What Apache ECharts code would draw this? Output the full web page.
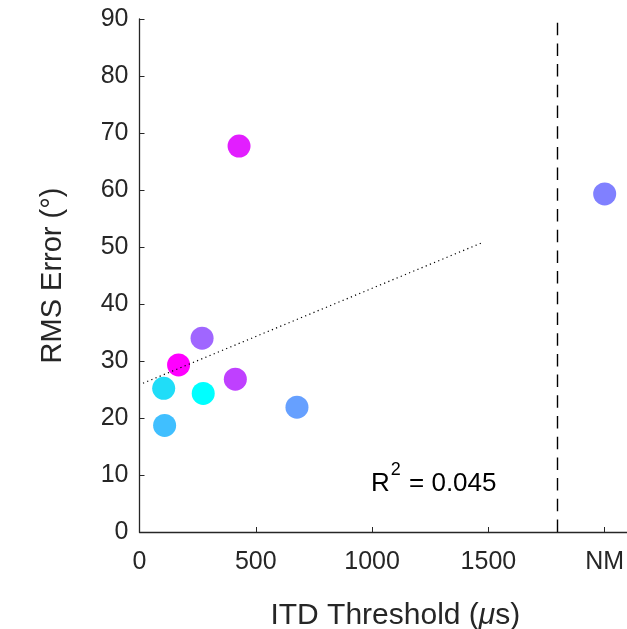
<!DOCTYPE html>
<html>
<head>
<meta charset="utf-8">
<script src="https://cdn.jsdelivr.net/npm/echarts@6/dist/echarts.min.js"></script>
<style>html,body{margin:0;padding:0;background:#fff;overflow:hidden;}#c{width:627px;height:629px;}</style>
</head>
<body>
<div id="c"></div>
<script>
// Data
const itdThreshold = [428, 269, 168, 104, 274, 412, 677, 108, 2000]; // 2000 = "NM" (not measurable)
const rmsError     = [67.7, 34.0, 29.3, 25.2, 24.3, 26.8, 21.9, 18.7, 59.3];
const pointColors  = ['#E21EFF', '#A066FF', '#FF00FF', '#20DDF8', '#00FFFF', '#BF40FF', '#66A0FF', '#40BFFF', '#8080FF'];
const fitX = [15, 1470];
const fitY = [26.1, 50.7];
const nmDivider = 1795;
const xTickLabels = {0: '0', 500: '500', 1000: '1000', 1500: '1500', 2000: 'NM'};
const r2Text = '0.045';

const chart = echarts.init(document.getElementById('c'));
const font = 'Liberation Sans, Arial, Helvetica, sans-serif';
const axisColor = '#262626';

chart.setOption({
  animation: false,
  grid: {left: 139.5, top: 19, width: 511.7, height: 513, containLabel: false, outerBoundsMode: 'none'},
  xAxis: {
    type: 'value', min: 0, max: 2200, interval: 500,
    name: 'ITD Threshold ({it|μ}s)', nameLocation: 'middle', nameGap: 69,
    nameTextStyle: {fontFamily: font, fontSize: 30, color: axisColor,
      rich: {it: {fontFamily: font, fontSize: 30, fontStyle: 'italic', color: axisColor}}},
    axisLine: {show: true, lineStyle: {color: axisColor, width: 1.3}},
    axisTick: {show: true, inside: true, length: 5, lineStyle: {color: axisColor}},
    axisLabel: {fontFamily: font, fontSize: 25, color: axisColor, margin: 18, showMaxLabel: false,
      formatter: v => (xTickLabels[v] !== undefined ? xTickLabels[v] : '')},
    splitLine: {show: false}
  },
  yAxis: {
    type: 'value', min: 0, max: 90, interval: 10,
    name: 'RMS Error (°)', nameLocation: 'middle', nameGap: 72,
    nameTextStyle: {fontFamily: font, fontSize: 29, color: axisColor},
    axisLine: {show: true, lineStyle: {color: axisColor, width: 1.3}},
    axisTick: {show: true, inside: true, length: 5, lineStyle: {color: axisColor}},
    axisLabel: {fontFamily: font, fontSize: 25, color: axisColor, margin: 11},
    splitLine: {show: false}
  },
  series: [
    {
      type: 'line',
      data: fitX.map((x, i) => [x, fitY[i]]),
      symbol: 'none',
      lineStyle: {color: '#000', width: 1.2, type: [1.2, 3.3]},
      z: 3,
      markLine: {
        silent: true, symbol: 'none', label: {show: false},
        lineStyle: {color: '#000', width: 1.4, type: [12.5, 8.2]},
        data: [{xAxis: nmDivider}]
      }
    },
    {
      type: 'scatter',
      symbol: 'circle',
      symbolSize: 23,
      data: itdThreshold.map((x, i) => ({value: [x, rmsError[i]], itemStyle: {color: pointColors[i], opacity: 1}})),
      z: 2
    }
  ],
  graphic: [{
    type: 'text', left: 371, top: 461,
    style: {
      text: '{r|R}{s|2}{r| = ' + r2Text + '}',
      rich: {
        r: {fontFamily: font, fontSize: 26, color: '#000', verticalAlign: 'bottom', height: 34},
        s: {fontFamily: font, fontSize: 18, color: '#000', verticalAlign: 'top', height: 34, padding: [0, 1, 14, 1]}
      }
    }
  }]
});
</script>
</body>
</html>
